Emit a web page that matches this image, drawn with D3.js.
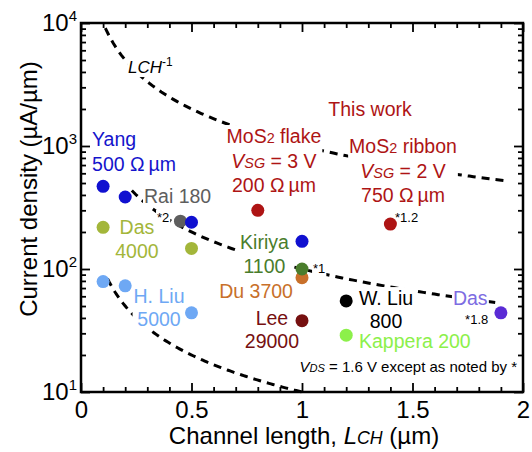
<!DOCTYPE html>
<html>
<head>
<meta charset="utf-8">
<script src="https://cdn.jsdelivr.net/npm/d3@7"></script>
<style>
  body { margin: 0; background: #fff; }
  text { font-family: "Liberation Sans", Arial, sans-serif; }
</style>
</head>
<body>
<div id="chart"></div>
<script>
// reported devices: source, channel length (um), current density (uA/um)
const sources  = ["Rai", "Yang", "Yang", "Yang", "Yang", "Das", "Das", "H. Liu", "H. Liu", "H. Liu",
                  "Du", "Kiriya", "Lee", "This work flake", "This work ribbon", "W. Liu", "Kappera", "Das *1.8"];
const lengths  = [0.45, 0.1, 0.2, 0.5, 1.0, 0.1, 0.5, 0.1, 0.2, 0.5, 1.0, 1.0, 1.0, 0.8, 1.4, 1.2, 1.2, 1.9];
const currents = [245, 470, 385, 240, 168, 218, 147, 79, 73, 44, 85, 100, 38, 300, 232, 55, 29, 44];
const dotColors = {
  "Rai": "#5e5e5e", "Yang": "#1010d0", "Das": "#a3b63a", "H. Liu": "#6ea8f4",
  "Du": "#c8702a", "Kiriya": "#4a7d2c", "Lee": "#761010",
  "This work flake": "#ae1414", "This work ribbon": "#ae1414",
  "W. Liu": "#000000", "Kappera": "#8cf04a", "Das *1.8": "#5a2bd5"
};

// LCH^-1 guide curves: J = k / L
const guideK    = [1000, 100, 10];
const guideFrom = [0.11, 0.23, 0.12];
const guideTo   = [1.92, 1.90, 1.0];

const xTicksMajor = [0, 0.5, 1, 1.5, 2];
const xTickLabels = ["0", "0.5", "1", "1.5", "2"];
const yDecades = [10, 100, 1000, 10000];

// annotations, placed in data coordinates
const labels = [
  {at: [0.213, 3918], anchor: "start", color: "#000", size: 17,
   lines: [[["L", "i"], ["CH", "i"], ["-1", "p"]]]},
  {at: [0.05, 1000], anchor: "start", color: "#1414cc", lh: 25,
   lines: [[["Yang", ""]], [["500 \u03A9\u2009\u00B5m", ""]]]},
  {at: [0.285, 344], anchor: "start", color: "#5e5e5e", lines: [[["Rai 180", ""]]]},
  {at: [0.344, 241], anchor: "start", color: "#000", size: 13, lines: [[["*2", ""]]]},
  {at: [0.253, 193], anchor: "middle", color: "#a3b63a", lines: [[["Das", ""]], [["4000", ""]]]},
  {at: [0.353, 52.9], anchor: "middle", color: "#6ea8f4", lh: 23, lines: [[["H. Liu", ""]], [["5000", ""]]]},
  {at: [1.308, 1754], anchor: "middle", color: "#ae1414", lines: [[["This work", ""]]]},
  {at: [0.873, 1057], anchor: "middle", color: "#ae1414", lh: 24.5,
   lines: [[["MoS", ""], ["2", "s"], [" flake", ""]], [["V", "i"], ["SG", "is"], [" = 3 V", ""]],
           [["200 \u03A9\u2009\u00B5m", ""]]]},
  {at: [1.457, 877], anchor: "middle", color: "#ae1414", lh: 24.5,
   lines: [[["MoS", ""], ["2", "s"], [" ribbon", ""]], [["V", "i"], ["SG", "is"], [" = 2 V", ""]],
           [["750 \u03A9\u2009\u00B5m", ""]]]},
  {at: [1.421, 241], anchor: "start", color: "#000", size: 13, lines: [[["*1.2", ""]]]},
  {at: [0.830, 145], anchor: "middle", color: "#4a7d2c", lines: [[["Kiriya", ""]], [["1100", ""]]]},
  {at: [1.05, 92.7], anchor: "start", color: "#000", size: 13, lines: [[["*1", ""]]]},
  {at: [0.959, 58.1], anchor: "end", color: "#c8702a", lines: [[["Du 3700", ""]]]},
  {at: [0.864, 35.1], anchor: "middle", color: "#761010", lh: 23, lines: [[["Lee", ""]], [["29000", ""]]]},
  {at: [1.38, 50.9], anchor: "middle", color: "#000", lh: 23, lines: [[["W. Liu", ""]], [["800", ""]]]},
  {at: [1.258, 22.8], anchor: "start", color: "#8cf04a", lines: [[["Kappera 200", ""]]]},
  {at: [1.683, 50.9], anchor: "start", color: "#7d6ce2", lines: [[["Das", ""]]]},
  {at: [1.738, 35.7], anchor: "start", color: "#000", size: 13, lines: [[["*1.8", ""]]]},
  {at: [1.973, 14.5], anchor: "end", color: "#000", size: 15,
   lines: [[["V", "i"], ["DS", "is"], [" = 1.6 V except as noted by *", ""]]]}
];

const width = 532, height = 452;
const x = d3.scaleLinear().domain([0, 2]).range([81, 523]);
const y = d3.scaleLog().domain([10, 1e4]).range([392, 23]);

const svg = d3.select("#chart").append("svg")
  .attr("width", width).attr("height", height);

const curveLayer = svg.append("g");
const bgLayer = svg.append("g");
const dotLayer = svg.append("g");
const labelLayer = svg.append("g");
const axisLayer = svg.append("g");

// guide curves
const line = d3.line().x(d => x(d[0])).y(d => y(d[1]));
guideK.forEach((k, i) => {
  const pts = d3.range(0, 101).map(j => {
    const L = guideFrom[i] + (guideTo[i] - guideFrom[i]) * j / 100;
    return [L, k / L];
  });
  curveLayer.append("path")
    .attr("d", line(pts))
    .attr("fill", "none")
    .attr("stroke", "#000")
    .attr("stroke-width", 3)
    .attr("stroke-dasharray", "8,6");
});

// rich text helper: "i" italic, "s" smaller, "p" superscript
function rich(textSel, segs, size) {
  let shift = 0;
  segs.forEach(([t, k]) => {
    const ts = textSel.append("tspan").text(t);
    if (k.includes("i")) ts.attr("font-style", "italic");
    if (k.includes("s")) ts.attr("font-size", size * 0.74);
    if (k === "p") {
      const up = -size * 0.42;
      ts.attr("font-size", size * 0.7).attr("dy", up);
      shift = up;
    } else if (shift) {
      ts.attr("dy", -shift);
      shift = 0;
    }
  });
}

labels.forEach(lab => {
  const size = lab.size || 19.5;
  const lh = lab.lh || 24;
  const g = labelLayer.append("g");
  lab.lines.forEach((segs, i) => {
    const t = g.append("text")
      .attr("x", x(lab.at[0]))
      .attr("y", y(lab.at[1]) + i * lh)
      .attr("text-anchor", lab.anchor)
      .attr("font-size", size)
      .attr("fill", lab.color);
    rich(t, segs, size);
  });
  const bb = g.node().getBBox();
  bgLayer.append("rect")
    .attr("x", bb.x - 1).attr("y", bb.y)
    .attr("width", bb.width + 2).attr("height", bb.height)
    .attr("fill", "#fff");
});

// points
dotLayer.selectAll("circle")
  .data(lengths.map((L, i) => ({L, J: currents[i], src: sources[i]})))
  .join("circle")
  .attr("cx", d => x(d.L))
  .attr("cy", d => y(d.J))
  .attr("r", 6.5)
  .attr("fill", d => dotColors[d.src]);

// axes (ticks point inward)
const xMinor = d3.range(0, 21).map(i => i / 10).filter(v => Math.round(v * 10) % 5 !== 0);
const yMinor = [];
yDecades.slice(0, 3).forEach(d => { for (let k = 2; k <= 9; k++) yMinor.push(d * k); });

function styleAxis(g) {
  g.select(".domain").remove();
  g.selectAll(".tick line").attr("stroke", "#000").attr("stroke-width", 1.8);
}

axisLayer.append("g").attr("transform", "translate(0,392)")
  .call(d3.axisBottom(x).tickValues(xMinor).tickSize(-5).tickFormat(""))
  .call(styleAxis);
axisLayer.append("g").attr("transform", "translate(0,392)")
  .call(d3.axisBottom(x).tickValues(xTicksMajor).tickSize(-9).tickPadding(9)
    .tickFormat((d, i) => xTickLabels[i]))
  .call(styleAxis)
  .call(g => g.selectAll(".tick text").attr("font-size", 24).attr("fill", "#000")
    .attr("font-family", "Liberation Sans, Arial, sans-serif"));
axisLayer.append("g").attr("transform", "translate(0,23)")
  .call(d3.axisTop(x).tickValues(xMinor).tickSize(-5).tickFormat(""))
  .call(styleAxis);
axisLayer.append("g").attr("transform", "translate(0,23)")
  .call(d3.axisTop(x).tickValues(xTicksMajor).tickSize(-9).tickFormat(""))
  .call(styleAxis);

axisLayer.append("g").attr("transform", "translate(81,0)")
  .call(d3.axisLeft(y).tickValues(yMinor).tickSize(-5).tickFormat(""))
  .call(styleAxis);
axisLayer.append("g").attr("transform", "translate(81,0)")
  .call(d3.axisLeft(y).tickValues(yDecades).tickSize(-9).tickPadding(4).tickFormat(() => "10"))
  .call(styleAxis)
  .call(g => g.selectAll(".tick text")
    .attr("font-size", 24).attr("fill", "#000")
    .attr("font-family", "Liberation Sans, Arial, sans-serif")
    .append("tspan")
    .attr("font-size", 15)
    .attr("dy", -10)
    .text(d => Math.round(Math.log10(d))));
axisLayer.append("g").attr("transform", "translate(523,0)")
  .call(d3.axisRight(y).tickValues(yMinor).tickSize(-5).tickFormat(""))
  .call(styleAxis);
axisLayer.append("g").attr("transform", "translate(523,0)")
  .call(d3.axisRight(y).tickValues(yDecades).tickSize(-9).tickFormat(""))
  .call(styleAxis);

// frame
axisLayer.append("rect")
  .attr("x", 81).attr("y", 23).attr("width", 442).attr("height", 369)
  .attr("fill", "none").attr("stroke", "#000").attr("stroke-width", 2.5);

// axis titles
const xt = svg.append("text")
  .attr("x", 304).attr("y", 444)
  .attr("text-anchor", "middle").attr("font-size", 24).attr("fill", "#000");
rich(xt, [["Channel length, ", ""], ["L", "i"], ["CH", "is"], [" (\u00B5m)", ""]], 24);

svg.append("text")
  .attr("transform", "translate(37,189) rotate(-90)")
  .attr("text-anchor", "middle").attr("font-size", 24).attr("fill", "#000")
  .text("Current density (\u00B5A/\u00B5m)");
</script>
</body>
</html>
